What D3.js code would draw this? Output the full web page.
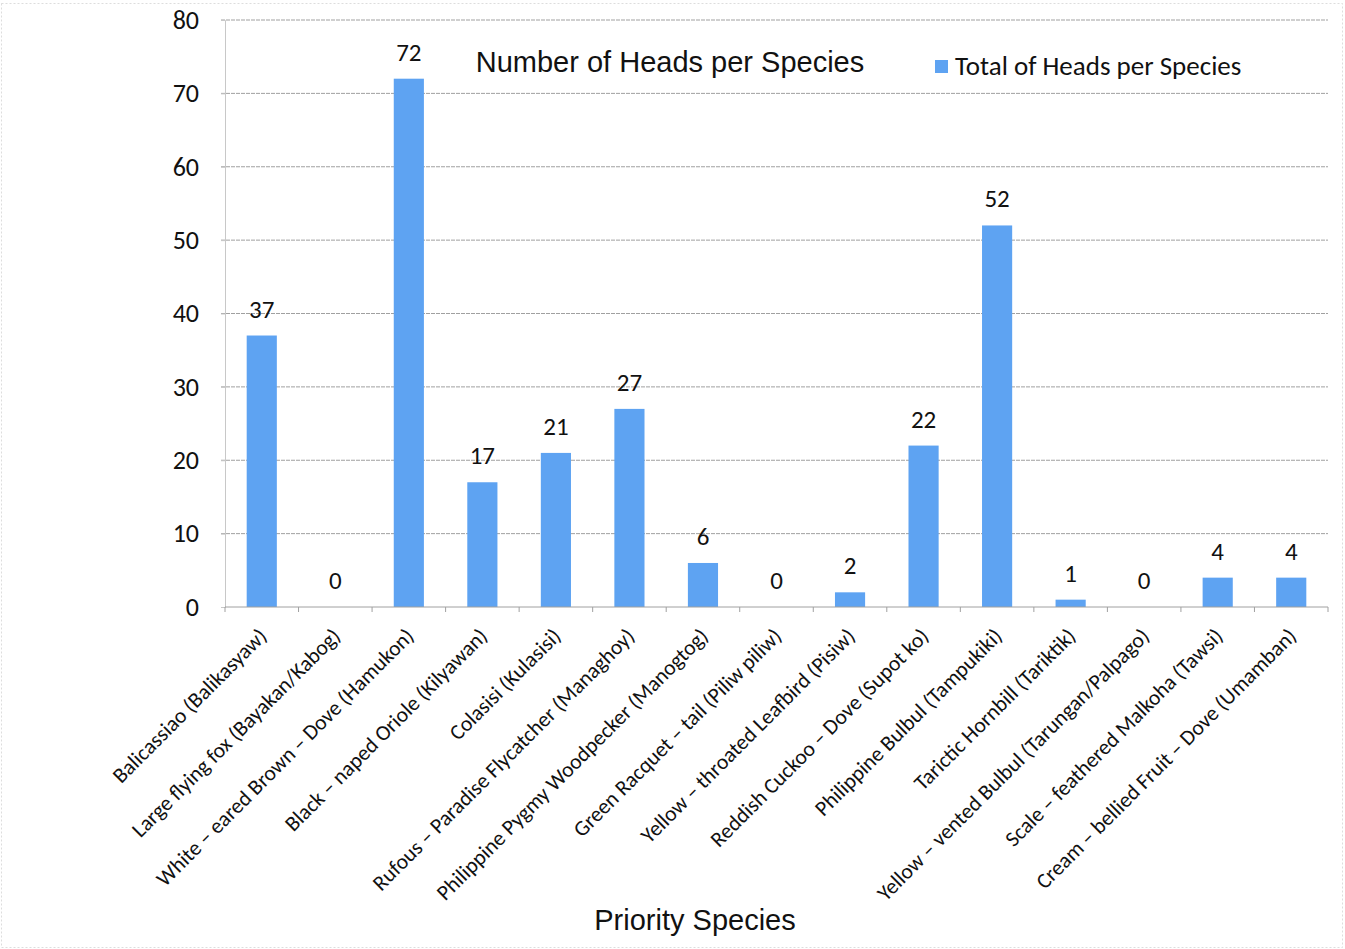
<!DOCTYPE html>
<html><head><meta charset="utf-8">
<script src="https://cdn.jsdelivr.net/npm/d3@7"></script>
<style>body{margin:0;background:#fff}</style>
</head><body><svg id="c" width="1345" height="949"></svg>
<script>
const categories = ["Balicassiao (Balikasyaw)","Large flying fox (Bayakan/Kabog)","White – eared Brown – Dove (Hamukon)","Black – naped Oriole (Kilyawan)","Colasisi (Kulasisi)","Rufous – Paradise Flycatcher  (Managhoy)","Philippine Pygmy Woodpecker (Manogtog)","Green Racquet – tail (Piliw piliw)","Yellow – throated Leafbird (Pisiw)","Reddish Cuckoo – Dove (Supot ko)","Philippine Bulbul (Tampukiki)","Tarictic Hornbill (Tariktik)","Yellow – vented Bulbul (Tarungan/Palpago)","Scale – feathered Malkoha (Tawsi)","Cream – bellied Fruit – Dove (Umamban)"];
const values = [37,0,72,17,21,27,6,0,2,22,52,1,0,4,4];
const yTicks = [0,10,20,30,40,50,60,70,80];
const title = "Number of Heads per Species";
const seriesName = "Total of Heads per Species";
const xTitle = "Priority Species";

const svg = d3.select("#c");
const L=225,R=1328,T=20,B=607;
const cal = "Carlito, Calibri, Lato, 'Open Sans', sans-serif";
const ari = "'Liberation Sans', Arial, sans-serif";

svg.append("rect").attr("x",1.5).attr("y",3.5).attr("width",1341).attr("height",944)
  .attr("fill","none").attr("stroke","#ddd").attr("stroke-dasharray","2,2");

const x = d3.scaleBand().domain(categories).range([L,R]).paddingInner(0.59).paddingOuter(0.295);
const y = d3.scaleLinear().domain([0,80]).range([B,T]);

// gridlines
svg.append("g").selectAll("line").data(yTicks.filter(d=>d>0)).join("line")
  .attr("x1",L-4).attr("x2",R).attr("y1",d=>y(d)).attr("y2",d=>y(d))
  .attr("stroke","#a0a0a0").attr("stroke-width",1).attr("stroke-dasharray","4,1");

// y axis
const ya = svg.append("g").attr("transform",`translate(${L},0)`).call(d3.axisLeft(y).tickValues(yTicks).tickSize(4).tickPadding(22));
ya.select(".domain").attr("stroke","#c8c8c8");
ya.selectAll(".tick line").attr("stroke","#c8c8c8");
ya.selectAll("text").attr("font-family",cal).attr("font-size",26).attr("fill","#111");

// bars
svg.append("g").selectAll("rect").data(categories).join("rect")
  .attr("x",d=>x(d)).attr("width",x.bandwidth())
  .attr("y",(d,i)=>y(values[i])).attr("height",(d,i)=>B-y(values[i]))
  .attr("fill","#5ea3f2");

// x axis
const step = x.step();
svg.append("line").attr("x1",L).attr("x2",R).attr("y1",B).attr("y2",B).attr("stroke","#a0a0a0");
svg.append("g").selectAll("line").data(d3.range(categories.length+1)).join("line")
  .attr("x1",i=>L+i*step).attr("x2",i=>L+i*step).attr("y1",B).attr("y2",B+5).attr("stroke","#a0a0a0");

// data labels
svg.append("g").selectAll("text").data(categories).join("text")
  .attr("x",d=>x(d)+x.bandwidth()/2).attr("y",(d,i)=>y(values[i])-18)
  .attr("text-anchor","middle").attr("font-family",cal).attr("font-size",25).attr("fill","#111")
  .text((d,i)=>values[i]);

// category labels
svg.append("g").selectAll("text").data(categories).join("text")
  .attr("transform",d=>`translate(${x(d)+x.bandwidth()/2+1},${B+25}) rotate(-45)`)
  .attr("text-anchor","end").attr("dy","0.35em").attr("font-family",cal).attr("font-size",21.6).attr("fill","#111")
  .text(d=>d);

// title
svg.append("text").attr("x",670).attr("y",72).attr("text-anchor","middle")
  .attr("font-family",ari).attr("font-size",29).attr("fill","#111").text(title);

// legend
svg.append("rect").attr("x",935).attr("y",60).attr("width",13).attr("height",13).attr("fill","#5ea3f2");
svg.append("text").attr("x",955).attr("y",75).attr("font-family",cal).attr("font-size",27).attr("fill","#111").text(seriesName);

// x title
svg.append("text").attr("x",695).attr("y",930).attr("text-anchor","middle")
  .attr("font-family",ari).attr("font-size",29).attr("fill","#111").text(xTitle);
</script></body></html>
